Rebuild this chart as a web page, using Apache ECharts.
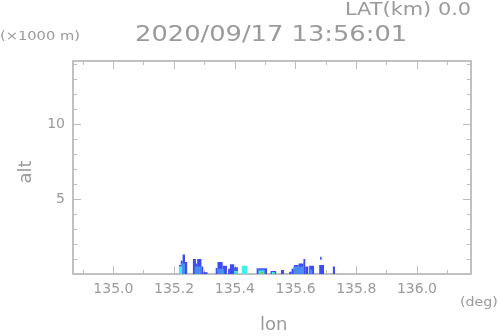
<!DOCTYPE html>
<html>
<head>
<meta charset="utf-8">
<script src="https://cdn.jsdelivr.net/npm/echarts@6/dist/echarts.min.js"></script>
<style>
  html, body { margin: 0; padding: 0; background: #fff; }
  #chart { width: 498px; height: 336px; }
</style>
</head>
<body>
<div id="chart"></div>
<script>
// axis ranges (deg, km)
var lonMin = 134.867, lonMax = 136.178;
var altMin = 0, altMax = 14.2;
var lonLabels = [135.0, 135.2, 135.4, 135.6, 135.8, 136.0];
var lonMinor = [134.9, 135.1, 135.3, 135.5, 135.7, 135.9, 136.1];
var altLabels = [5, 10];
var altMinor = [1, 2, 3, 4, 6, 7, 8, 9, 11, 12, 13, 14];

// echo cells: [lon start, lon end, top km, bottom km]
var blueCells = [
    [135.216, 135.222, 0.6, 0], [135.222, 135.228, 0.9, 0], [135.228, 135.236, 1.3, 0], [135.236, 135.243, 0.8, 0],
    [135.262, 135.272, 1.0, 0], [135.272, 135.276, 0.7, 0], [135.276, 135.290, 1.0, 0], [135.290, 135.296, 0.5, 0], [135.296, 135.310, 0.12, 0],
    [135.337, 135.343, 0.4, 0], [135.343, 135.360, 0.8, 0], [135.360, 135.374, 0.55, 0],
    [135.378, 135.384, 0.35, 0], [135.384, 135.398, 0.65, 0], [135.398, 135.410, 0.45, 0],
    [135.472, 135.506, 0.38, 0],
    [135.518, 135.536, 0.2, 0],
    [135.552, 135.562, 0.27, 0],
    [135.579, 135.587, 0.15, 0], [135.587, 135.595, 0.35, 0], [135.595, 135.610, 0.6, 0], [135.610, 135.626, 0.7, 0], [135.626, 135.632, 1.0, 0], [135.632, 135.642, 0.5, 0],
    [135.645, 135.661, 0.55, 0],
    [135.678, 135.694, 0.6, 0], [135.681, 135.686, 1.15, 0.95],
    [135.723, 135.730, 0.5, 0]
];
var lightBlueCells = [
    [135.222, 135.236, 0.7, 0],
    [135.268, 135.288, 0.5, 0],
    [135.345, 135.365, 0.35, 0],
    [135.476, 135.500, 0.3, 0],
    [135.593, 135.628, 0.5, 0],
    [135.648, 135.655, 0.3, 0]
];
var cyanCells = [
    [135.216, 135.226, 0.5, 0],
    [135.398, 135.410, 0.2, 0],
    [135.423, 135.4415, 0.55, 0],
    [135.479, 135.497, 0.22, 0],
    [135.522, 135.532, 0.13, 0]
];
var greenCells = [
    [135.400, 135.405, 0.12, 0],
    [135.484, 135.494, 0.14, 0],
    [135.526, 135.530, 0.07, 0]
];
var yellowCells = [
    [135.488, 135.492, 0.07, 0]
];

var axisColor = '#bdbdbd';
var textColor = '#9a9a9a';
var font = 'DejaVu Sans';

function cellSeries(cells, color) {
    return {
        type: 'custom',
        xAxisIndex: 0,
        yAxisIndex: 0,
        clip: true,
        data: cells,
        renderItem: function (params, api) {
            var p0 = api.coord([api.value(0), api.value(3)]);
            var p1 = api.coord([api.value(1), api.value(2)]);
            return {
                type: 'rect',
                shape: { x: p0[0], y: p1[1], width: p1[0] - p0[0], height: p0[1] - p1[1] },
                style: { fill: color }
            };
        }
    };
}

function xAx(pos, ticks, len, labels) {
    return {
        type: 'value', position: pos, min: lonMin, max: lonMax,
        axisLine: { show: true, onZero: false, lineStyle: { color: axisColor, width: 1.5 } },
        axisTick: { show: true, inside: true, length: len, customValues: ticks, lineStyle: { color: axisColor } },
        axisLabel: labels ? {
            show: true, customValues: ticks, margin: 8, color: textColor, fontSize: 14, fontFamily: font,
            formatter: function (v) { return v.toFixed(1); }
        } : { show: false },
        splitLine: { show: false }
    };
}
function yAx(pos, ticks, len, labels) {
    return {
        type: 'value', position: pos, min: altMin, max: altMax,
        axisLine: { show: true, onZero: false, lineStyle: { color: axisColor, width: 1.5 } },
        axisTick: { show: true, inside: true, length: len, customValues: ticks, lineStyle: { color: axisColor } },
        axisLabel: labels ? {
            show: true, customValues: ticks, margin: 8, color: textColor, fontSize: 14, fontFamily: font
        } : { show: false },
        splitLine: { show: false }
    };
}

function label(text, x, y, size, sx) {
    return {
        type: 'text', x: x, y: y, scaleX: sx,
        style: { text: text, fill: textColor, font: size + 'px "DejaVu Sans"', align: 'left', verticalAlign: 'top' }
    };
}

var chart = echarts.init(document.getElementById('chart'));
var option = {
    animation: false,
    backgroundColor: '#fff',
    grid: { left: 73, top: 61, right: 27, bottom: 62 },
    xAxis: [
        xAx('bottom', lonLabels, 8, true),
        xAx('bottom', lonMinor, 4, false),
        xAx('top', lonLabels, 8, false),
        xAx('top', lonMinor, 4, false)
    ],
    yAxis: [
        yAx('left', altLabels, 8, true),
        yAx('left', altMinor, 4, false),
        yAx('right', altLabels, 8, false),
        yAx('right', altMinor, 4, false)
    ],
    graphic: [
        label('LAT(km) 0.0', 345, 1, 18, 1.16),
        label('2020/09/17 13:56:01', 135, 24, 22, 1.17),
        label('(\u00d71000 m)', 0, 31, 12, 1.22),
        label('(deg)', 460, 297, 12, 1.18),
        label('lon', 260, 316, 18, 1.0),
        { type: 'text', x: 26, y: 172, rotation: Math.PI / 2, style: { text: 'alt', fill: textColor, font: '18px "DejaVu Sans"', align: 'center', verticalAlign: 'middle' } }
    ],
    series: [
        cellSeries(blueCells, '#3c4cf0'),
        cellSeries(lightBlueCells, '#4a8cf0'),
        cellSeries(cyanCells, '#3ef0ec'),
        cellSeries(greenCells, '#52d060'),
        cellSeries(yellowCells, '#e8c83a')
    ]
};
chart.setOption(option);
</script>
</body>
</html>
